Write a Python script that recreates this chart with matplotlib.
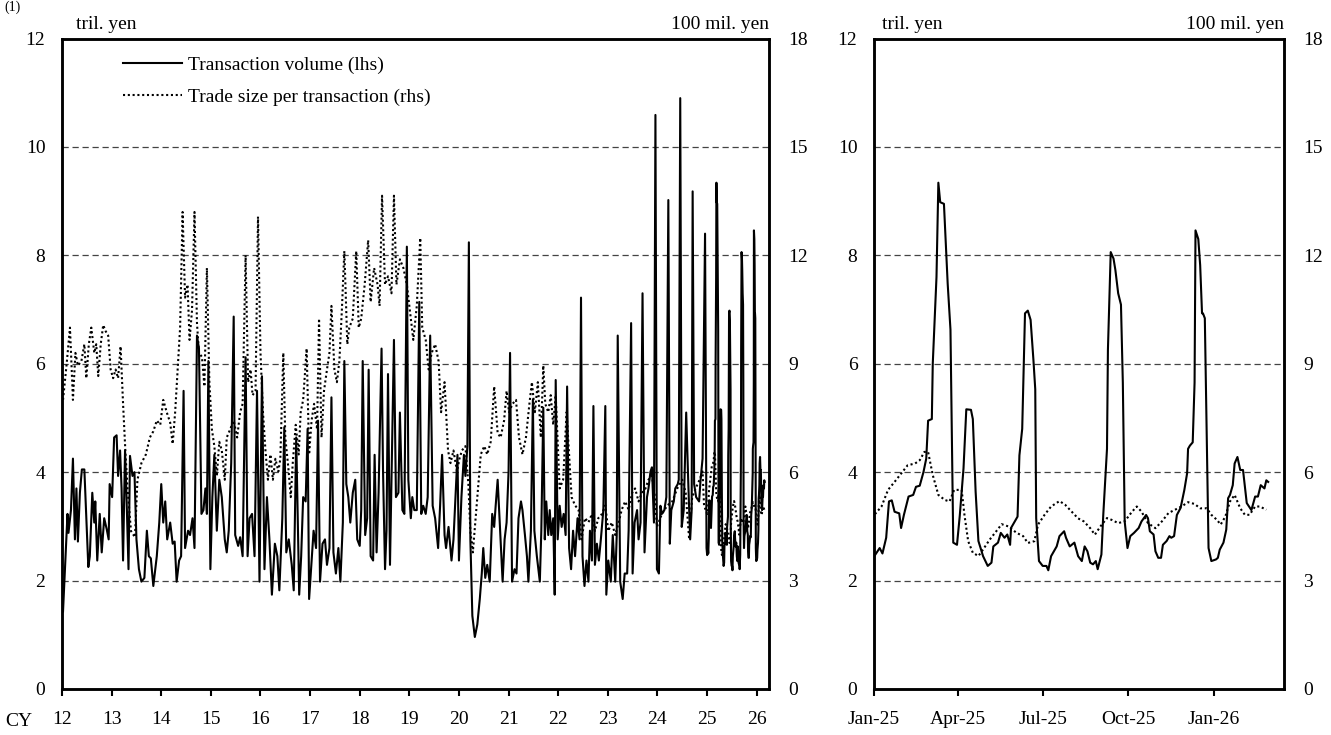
import matplotlib
matplotlib.use('Agg')
import matplotlib.pyplot as plt
import numpy as np
from matplotlib.lines import Line2D

plt.rcParams['font.family'] = ['Liberation Serif', 'DejaVu Serif']
plt.rcParams['font.size'] = 14

# Transaction volume (lhs, tril. yen), CY2012-2024, x in calendar year (12 = 2012)
vol_year = [12.02, 12.07, 12.11, 12.13, 12.18, 12.22, 12.26, 12.29, 12.32, 12.36, 12.40, 12.45, 12.49, 12.53, 12.56,
            12.61, 12.65, 12.67, 12.71, 12.76, 12.80, 12.85, 12.90, 12.94, 12.96, 13.01, 13.05, 13.10, 13.13, 13.17,
            13.20, 13.23, 13.27, 13.30, 13.34, 13.37, 13.42, 13.46, 13.50, 13.55, 13.60, 13.66, 13.71, 13.75, 13.79,
            13.84, 13.91, 13.96, 14.00, 14.04, 14.08, 14.12, 14.18, 14.23, 14.27, 14.31, 14.36, 14.40, 14.45, 14.48,
            14.54, 14.58, 14.63, 14.67, 14.72, 14.76, 14.81, 14.85, 14.89, 14.92, 14.95, 14.99, 15.03, 15.07, 15.12,
            15.17, 15.22, 15.28, 15.32, 15.36, 15.41, 15.46, 15.49, 15.55, 15.59, 15.64, 15.70, 15.74, 15.78, 15.83,
            15.88, 15.93, 15.98, 16.03, 16.08, 16.13, 16.18, 16.23, 16.29, 16.34, 16.38, 16.44, 16.48, 16.52, 16.57,
            16.63, 16.67, 16.72, 16.78, 16.82, 16.86, 16.91, 16.95, 16.98, 17.03, 17.07, 17.12, 17.16, 17.20, 17.25,
            17.30, 17.34, 17.39, 17.43, 17.47, 17.52, 17.57, 17.61, 17.66, 17.69, 17.73, 17.77, 17.81, 17.86, 17.91,
            17.95, 18.00, 18.03, 18.06, 18.11, 18.15, 18.18, 18.22, 18.27, 18.30, 18.34, 18.38, 18.44, 18.47, 18.51,
            18.54, 18.57, 18.61, 18.65, 18.69, 18.73, 18.78, 18.81, 18.86, 18.90, 18.95, 18.98, 19.03, 19.06, 19.10,
            19.15, 19.20, 19.24, 19.28, 19.33, 19.37, 19.42, 19.47, 19.52, 19.58, 19.62, 19.66, 19.71, 19.74, 19.79,
            19.85, 19.89, 19.93, 19.97, 20.00, 20.05, 20.10, 20.13, 20.17, 20.20, 20.23, 20.27, 20.32, 20.37, 20.42,
            20.46, 20.49, 20.53, 20.57, 20.62, 20.67, 20.71, 20.74, 20.78, 20.81, 20.84, 20.88, 20.92, 20.96, 21.00,
            21.03, 21.07, 21.12, 21.16, 21.20, 21.25, 21.28, 21.33, 21.37, 21.40, 21.45, 21.49, 21.52, 21.57, 21.63,
            21.66, 21.70, 21.73, 21.76, 21.80, 21.83, 21.86, 21.90, 21.93, 21.95, 21.99, 22.03, 22.07, 22.11, 22.15,
            22.18, 22.22, 22.26, 22.30, 22.34, 22.39, 22.43, 22.46, 22.49, 22.53, 22.57, 22.61, 22.64, 22.68, 22.71,
            22.74, 22.78, 22.82, 22.86, 22.91, 22.95, 22.97, 23.01, 23.06, 23.10, 23.15, 23.18, 23.20, 23.25, 23.30,
            23.34, 23.39, 23.42, 23.47, 23.50, 23.54, 23.59, 23.62, 23.66, 23.70, 23.74, 23.79, 23.82, 23.86, 23.89,
            23.93, 23.96, 23.99, 24.03, 24.06, 24.09, 24.14, 24.18, 24.22, 24.25, 24.28, 24.33, 24.36, 24.41, 24.43,
            24.46, 24.49, 24.53, 24.58, 24.62, 24.66, 24.69, 24.71, 24.74, 24.78, 24.84, 24.87, 24.91, 24.96, 24.99]
vol_val = [1.43, 2.45, 3.23, 2.88, 3.30, 4.25, 2.76, 3.70, 2.72, 3.62, 4.05, 4.05, 3.15, 2.25, 2.45,
           3.62, 3.07, 3.46, 2.37, 3.23, 2.52, 3.15, 2.95, 2.76, 3.78, 3.54, 4.64, 4.68, 3.93, 4.40,
           3.70, 2.37, 4.40, 3.54, 2.21, 4.30, 3.93, 4.00, 2.76, 2.21, 1.98, 2.05, 2.92, 2.45, 2.41,
           1.90, 2.45, 3.07, 3.78, 3.07, 3.46, 2.76, 3.07, 2.68, 2.72, 1.98, 2.37, 2.45, 5.50, 2.60,
           2.92, 2.84, 3.15, 2.60, 6.52, 6.28, 3.23, 3.30, 3.70, 3.23, 6.05, 2.21, 3.54, 4.32, 2.92,
           3.86, 3.54, 2.76, 2.52, 2.92, 4.17, 6.87, 2.84, 2.64, 2.80, 2.45, 6.12, 2.45, 3.15, 3.23,
           2.45, 5.50, 1.98, 5.77, 2.21, 3.54, 2.76, 1.74, 2.68, 2.45, 1.82, 3.15, 4.83, 2.52, 2.76,
           2.29, 1.82, 4.64, 1.74, 2.45, 3.54, 3.46, 4.80, 1.66, 2.37, 2.92, 2.60, 4.95, 1.98, 2.68,
           2.76, 2.29, 2.60, 5.38, 2.52, 2.13, 2.60, 1.98, 3.07, 6.05, 3.78, 3.54, 3.07, 3.62, 3.86,
           2.76, 2.64, 3.30, 6.05, 2.84, 3.15, 5.89, 2.45, 2.37, 4.32, 2.52, 3.62, 6.28, 4.01, 2.21,
           2.92, 5.81, 2.29, 4.32, 6.44, 3.54, 3.62, 5.10, 3.30, 3.23, 8.16, 3.86, 3.15, 3.54, 3.30,
           3.30, 7.14, 3.23, 3.38, 3.23, 3.54, 6.52, 3.38, 3.15, 2.60, 3.38, 4.32, 2.84, 2.60, 2.99,
           2.37, 2.76, 3.54, 4.32, 2.37, 3.54, 4.32, 3.93, 4.48, 8.24, 2.76, 1.35, 0.96, 1.19, 1.66,
           2.13, 2.60, 2.05, 2.29, 1.98, 3.23, 2.99, 3.38, 3.86, 3.30, 2.76, 1.98, 2.76, 3.07, 4.01,
           6.20, 1.98, 2.21, 2.13, 3.15, 3.46, 3.30, 2.84, 2.45, 1.98, 2.92, 5.34, 2.92, 2.45, 1.98,
           2.92, 5.19, 2.76, 3.46, 2.84, 3.30, 2.84, 3.15, 1.74, 5.70, 2.76, 3.38, 2.99, 3.23, 2.84,
           5.58, 2.60, 2.21, 2.92, 2.45, 3.15, 2.76, 7.22, 2.45, 1.90, 2.37, 1.98, 2.92, 2.37, 5.22,
           2.29, 2.68, 2.37, 2.76, 3.30, 5.22, 1.74, 2.37, 1.98, 2.84, 1.98, 2.84, 6.52, 1.98, 1.66,
           2.13, 2.13, 2.92, 6.75, 2.13, 3.07, 3.30, 2.76, 3.07, 7.30, 2.52, 3.54, 3.70, 4.01, 4.09,
           3.07, 10.59, 2.21, 2.13, 3.38, 3.23, 3.30, 3.54, 9.02, 2.68, 3.30, 3.46, 3.70, 3.78, 3.86,
           10.90, 2.99, 3.30, 5.10, 3.86, 2.76, 3.30, 9.18, 3.78, 3.54, 3.46, 3.86, 4.25, 8.40, 2.60]

# Trade size per transaction (rhs, 100 mil. yen), CY2012-2024
size_year = [12.02, 12.09, 12.16, 12.22, 12.27, 12.32, 12.39, 12.45, 12.49, 12.54, 12.59, 12.65, 12.69, 12.73, 12.78,
             12.83, 12.88, 12.93, 12.98, 13.03, 13.08, 13.13, 13.18, 13.23, 13.28, 13.32, 13.39, 13.47, 13.52, 13.60,
             13.69, 13.77, 13.84, 13.91, 13.98, 14.04, 14.11, 14.18, 14.23, 14.28, 14.33, 14.38, 14.43, 14.48, 14.53,
             14.57, 14.62, 14.67, 14.72, 14.76, 14.82, 14.87, 14.92, 14.97, 15.02, 15.07, 15.12, 15.17, 15.22, 15.28,
             15.32, 15.39, 15.46, 15.53, 15.59, 15.64, 15.70, 15.75, 15.80, 15.84, 15.90, 15.95, 16.00, 16.05, 16.10,
             16.15, 16.20, 16.25, 16.30, 16.36, 16.40, 16.46, 16.50, 16.56, 16.61, 16.65, 16.71, 16.77, 16.81, 16.86,
             16.93, 16.98, 17.03, 17.08, 17.14, 17.18, 17.23, 17.28, 17.34, 17.39, 17.43, 17.49, 17.54, 17.59, 17.64,
             17.69, 17.75, 17.79, 17.86, 17.93, 17.98, 18.03, 18.10, 18.17, 18.22, 18.29, 18.36, 18.40, 18.45, 18.51,
             18.57, 18.64, 18.69, 18.74, 18.81, 18.88, 18.95, 19.01, 19.08, 19.15, 19.22, 19.26, 19.33, 19.39, 19.45,
             19.52, 19.59, 19.64, 19.71, 19.78, 19.83, 19.89, 19.96, 20.01, 20.06, 20.13, 20.19, 20.23, 20.28, 20.37,
             20.44, 20.51, 20.57, 20.64, 20.71, 20.78, 20.84, 20.91, 20.96, 21.01, 21.08, 21.15, 21.21, 21.28, 21.35,
             21.42, 21.47, 21.53, 21.59, 21.65, 21.70, 21.74, 21.80, 21.85, 21.90, 21.95, 22.00, 22.03, 22.10, 22.17,
             22.22, 22.27, 22.34, 22.41, 22.47, 22.54, 22.61, 22.68, 22.74, 22.81, 22.88, 22.95, 23.01, 23.08, 23.15,
             23.22, 23.28, 23.35, 23.42, 23.49, 23.55, 23.62, 23.69, 23.76, 23.82, 23.89, 23.95, 23.99, 24.09, 24.20,
             24.30, 24.40, 24.50, 24.57, 24.64, 24.70, 24.77, 24.85, 24.91, 24.94]
size_val = [8.00, 8.95, 10.00, 8.00, 9.30, 8.95, 9.07, 9.54, 8.60, 9.54, 10.00, 9.30, 9.54, 8.66, 9.54,
            10.07, 9.90, 9.78, 8.84, 8.60, 8.84, 8.60, 9.48, 7.90, 6.49, 5.55, 4.37, 4.20, 5.79, 6.25,
            6.49, 6.96, 7.13, 7.43, 7.31, 8.00, 7.66, 7.37, 6.78, 7.66, 8.84, 10.00, 13.20, 10.83, 11.19,
            9.66, 10.48, 13.20, 10.12, 9.30, 9.19, 8.37, 11.65, 8.49, 7.19, 6.72, 5.90, 6.84, 6.60, 5.79,
            6.96, 7.19, 7.43, 6.96, 7.66, 7.89, 12.00, 8.49, 8.84, 8.13, 8.25, 13.07, 9.30, 7.66, 6.60,
            5.79, 6.49, 5.79, 6.37, 6.02, 6.37, 9.30, 6.96, 6.14, 5.31, 6.25, 7.31, 6.49, 7.66, 8.00,
            9.42, 6.49, 7.43, 7.89, 7.19, 10.25, 6.96, 8.25, 8.84, 9.30, 10.60, 8.84, 8.49, 9.07, 10.48,
            12.12, 9.54, 10.00, 10.25, 12.12, 10.00, 10.25, 11.19, 12.42, 10.71, 11.65, 11.19, 10.60, 13.65, 11.19,
            11.42, 10.95, 13.65, 11.19, 11.89, 11.65, 11.19, 10.48, 9.66, 10.60, 12.48, 10.00, 9.66, 8.84, 9.30,
            9.54, 9.07, 7.66, 8.49, 6.60, 6.25, 6.60, 6.02, 6.37, 6.60, 6.72, 5.67, 4.37, 3.78, 5.31,
            6.49, 6.72, 6.49, 6.84, 8.37, 7.08, 6.96, 7.43, 8.25, 7.66, 7.89, 8.00, 6.96, 6.49, 6.96,
            7.89, 8.49, 7.66, 8.49, 6.96, 8.95, 7.89, 7.66, 8.13, 7.31, 8.13, 6.49, 5.55, 5.79, 7.66,
            6.49, 5.31, 5.08, 4.96, 4.14, 4.73, 4.61, 4.84, 4.37, 4.73, 4.84, 5.08, 4.37, 4.61, 4.26,
            4.61, 4.96, 5.19, 4.96, 5.43, 5.55, 5.19, 5.43, 5.55, 5.79, 5.90, 5.31, 4.49, 4.84, 5.08,
            5.19, 5.55, 5.79, 5.43, 4.14, 5.31, 5.55, 5.79, 6.02, 5.08]

# Jan 2025 onwards, x in days since 1 Jan 2025
vol_day = [1, 6, 9, 13, 16, 19, 22, 27, 29, 32, 37, 42, 45, 49, 53, 56, 58, 62, 63, 67,
           69, 71, 75, 79, 82, 85, 89, 92, 96, 99, 104, 106, 109, 112, 117, 122, 126, 128, 133, 136,
           140, 143, 146, 147, 151, 154, 156, 159, 162, 165, 168, 171, 173, 174, 177, 181, 185, 187, 190, 196,
           199, 204, 206, 210, 215, 219, 223, 226, 229, 232, 235, 238, 240, 244, 246, 250, 251, 254, 257, 259,
           262, 265, 267, 269, 272, 275, 279, 284, 287, 292, 294, 296, 300, 302, 305, 308, 310, 314, 317, 319,
           322, 325, 329, 333, 336, 337, 339, 342, 344, 345, 348, 350, 352, 353, 355, 357, 359, 362, 367, 369,
           371, 375, 378, 380, 382, 385, 387, 390, 393, 396, 400, 405, 409, 412, 415, 419, 421, 423]
vol_d = [2.47, 2.60, 2.50, 2.79, 3.46, 3.48, 3.27, 3.24, 2.97, 3.21, 3.55, 3.58, 3.73, 3.75, 4.00, 4.25, 4.95, 4.98, 6.00, 7.60,
         9.34, 8.98, 8.95, 7.48, 6.63, 2.70, 2.66, 3.20, 4.07, 5.16, 5.15, 4.98, 3.64, 2.73, 2.45, 2.27, 2.33, 2.63, 2.70, 2.88,
         2.79, 2.85, 2.66, 2.97, 3.09, 3.18, 4.31, 4.80, 6.93, 6.98, 6.81, 6.08, 5.53, 3.15, 2.36, 2.27, 2.27, 2.19, 2.45, 2.63,
         2.82, 2.91, 2.79, 2.63, 2.70, 2.45, 2.36, 2.63, 2.54, 2.33, 2.30, 2.36, 2.21, 2.48, 3.21, 4.43, 6.26, 8.06, 7.94, 7.73,
         7.30, 7.09, 5.65, 3.09, 2.60, 2.82, 2.88, 2.97, 3.09, 3.21, 3.15, 2.91, 2.85, 2.54, 2.42, 2.42, 2.66, 2.73, 2.82, 2.79,
         2.82, 3.21, 3.34, 3.67, 3.98, 4.43, 4.49, 4.55, 5.65, 8.46, 8.30, 7.82, 6.93, 6.93, 6.84, 4.68, 2.60, 2.36, 2.39, 2.42,
         2.57, 2.70, 2.94, 3.52, 3.58, 3.76, 4.16, 4.28, 4.04, 4.04, 3.43, 3.30, 3.55, 3.55, 3.76, 3.70, 3.85, 3.82]

size_day = [1, 8, 15, 22, 29, 36, 44, 49, 54, 58, 63, 69, 76, 81, 86, 94, 97, 101, 106, 112,
            117, 124, 131, 137, 144, 153, 160, 165, 172, 176, 183, 190, 199, 205, 212, 219, 225, 232, 237, 243,
            250, 255, 262, 269, 277, 282, 287, 294, 302, 309, 316, 323, 330, 337, 344, 350, 357, 362, 368, 372,
            377, 382, 387, 393, 398, 403, 409, 414, 421]
size_d = [4.84, 5.05, 5.51, 5.73, 5.96, 6.19, 6.24, 6.33, 6.56, 6.56, 5.92, 5.37, 5.23, 5.19, 5.51, 5.51, 4.82, 4.09, 3.77, 3.68,
          3.86, 4.13, 4.36, 4.56, 4.50, 4.32, 4.23, 4.04, 4.09, 4.55, 4.82, 5.05, 5.20, 5.10, 4.91, 4.72, 4.64, 4.45, 4.27, 4.50,
          4.73, 4.68, 4.59, 4.64, 4.91, 5.05, 4.91, 4.59, 4.45, 4.64, 4.87, 4.96, 5.05, 5.17, 5.12, 5.00, 5.00, 4.82, 4.68, 4.55,
          4.77, 5.19, 5.37, 5.00, 4.82, 4.82, 5.05, 5.05, 4.96]

year_ticks = list(range(12, 27))
month_ticks = [0, 90, 181, 273, 365]
month_labels = ['Jan-25', 'Apr-25', 'Jul-25', 'Oct-25', 'Jan-26']

# left panel series = history + the recent daily data
vol_x = np.array(vol_year + [25 + d / 365 for d in vol_day])
vol_y = np.array(vol_val + vol_d)
size_x = np.array(size_year + [25 + d / 365 for d in size_day])
size_y = np.array(size_val + size_d)

fig = plt.figure(figsize=(13.31, 7.35), dpi=100)
axL = fig.add_axes([0.0466, 0.0626, 0.5312, 0.885])
axR = fig.add_axes([0.6567, 0.0626, 0.3080, 0.885])

dash_grid = dict(color='#444444', lw=0.9, linestyle=(0, (5, 3)))
dot_style = (0, (1, 1.3))


def style_axes(ax, ax2):
    ax.set_ylim(0, 12)
    ax2.set_ylim(0, 18)
    ax.set_yticks(range(0, 13, 2))
    ax2.set_yticks(range(0, 19, 3))
    for y in range(2, 12, 2):
        ax.axhline(y, zorder=0, **dash_grid)
    for a in (ax, ax2):
        for s in a.spines.values():
            s.set_linewidth(1.8)
    ax.tick_params(axis='y', length=0, pad=12, labelsize=14)
    ax2.tick_params(axis='y', length=0, pad=14, labelsize=14)
    ax.tick_params(axis='x', direction='out', length=5, width=1.5, pad=11, labelsize=14)
    ax.text(0.02, 1.008, 'tril. yen', transform=ax.transAxes, ha='left', va='bottom', fontsize=14)
    ax.text(1.0, 1.008, '100 mil. yen', transform=ax.transAxes, ha='right', va='bottom', fontsize=14)


# left panel
axL2 = axL.twinx()
axL.plot(vol_x, vol_y, color='black', lw=1.5, zorder=3)
axL2.plot(size_x, size_y, color='black', lw=1.5, linestyle=dot_style, zorder=3)
axL.set_xlim(12, 26.25)
axL.set_xticks(year_ticks)
axL.set_xticklabels([str(y) for y in year_ticks])
style_axes(axL, axL2)
fig.text(0.004, 0.012, 'CY', fontsize=14, ha='left', va='baseline')

handles = [Line2D([0], [0], color='black', lw=1.5),
           Line2D([0], [0], color='black', lw=1.5, linestyle=dot_style)]
axL.legend(handles, ['Transaction volume (lhs)', 'Trade size per transaction (rhs)'],
           loc='upper left', bbox_to_anchor=(0.062, 1.0), frameon=False, fontsize=14,
           handlelength=3.0, handletextpad=0.3, labelspacing=0.75)

# right panel
axR2 = axR.twinx()
axR.plot(vol_day, vol_d, color='black', lw=1.5, zorder=3)
axR2.plot(size_day, size_d, color='black', lw=1.5, linestyle=dot_style, zorder=3)
axR.set_xlim(0, 440)
axR.set_xticks(month_ticks)
axR.set_xticklabels(month_labels)
style_axes(axR, axR2)

fig.text(0.003, 0.999, '(1)', fontsize=10, ha='left', va='top')

fig.savefig('out.png', dpi=100)
